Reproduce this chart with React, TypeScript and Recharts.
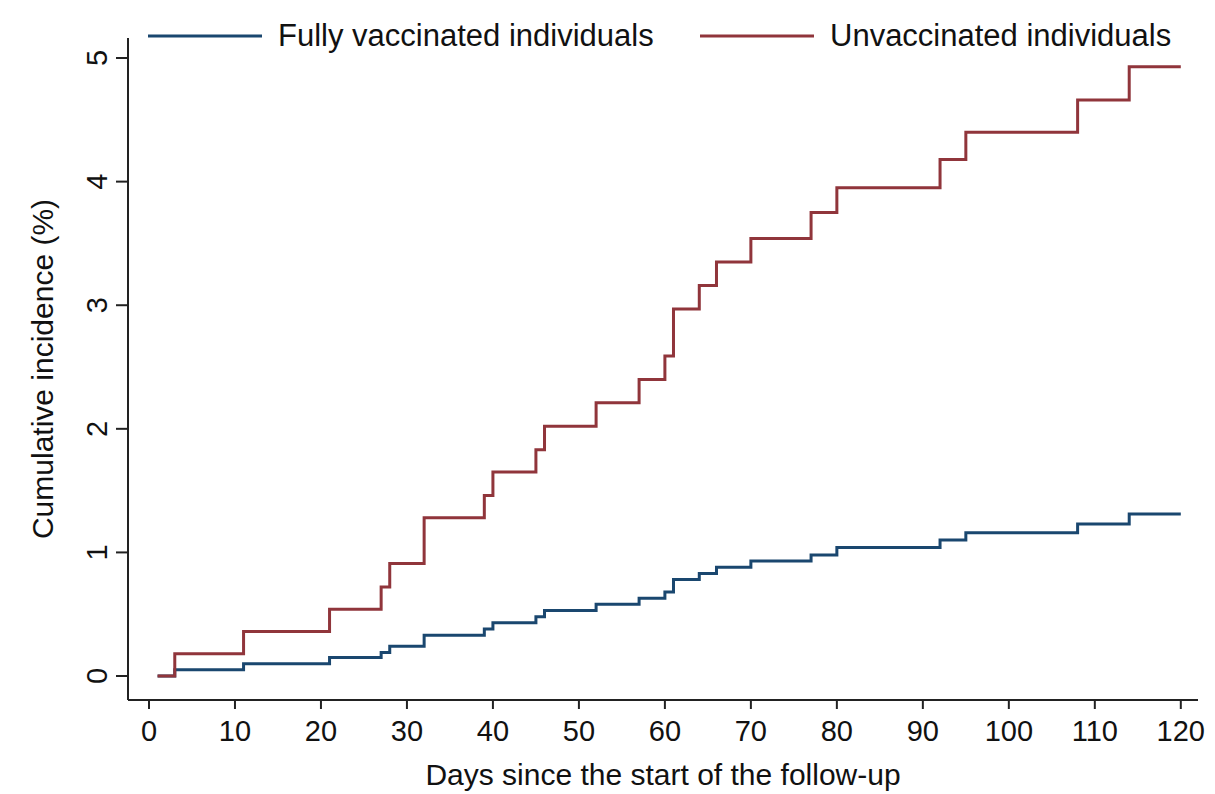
import { LineChart, Line, XAxis, YAxis, Label } from "recharts";

// days where the Kaplan-Meier style curves step up
const days = [1, 3, 11, 21, 27, 28, 32, 39, 40, 45, 46, 52, 57, 60, 61, 64, 66, 70, 77, 80, 92, 95, 108, 114, 120];
const unvaccinated = [0, 0.18, 0.36, 0.54, 0.72, 0.91, 1.28, 1.46, 1.65, 1.83, 2.02, 2.21, 2.4, 2.59, 2.97, 3.16, 3.35, 3.54, 3.75, 3.95, 4.18, 4.4, 4.66, 4.93, 4.93];
const vaccinated = [0, 0.05, 0.1, 0.15, 0.19, 0.24, 0.33, 0.38, 0.43, 0.48, 0.53, 0.58, 0.63, 0.68, 0.78, 0.83, 0.88, 0.93, 0.98, 1.04, 1.1, 1.16, 1.23, 1.31, 1.31];
const xTicks = [0, 10, 20, 30, 40, 50, 60, 70, 80, 90, 100, 110, 120];
const yTicks = [0, 1, 2, 3, 4, 5];

const BLUE = "#1a476f";
const RED = "#90353b";
const FONT = '"Liberation Sans", Arial, sans-serif';

const rows = days.map((d, i) => ({ day: d, vac: vaccinated[i], unvac: unvaccinated[i] }));

function XTick(props: any) {
  const { x, y, payload } = props;
  return (
    <text x={x} y={y + 32} textAnchor="middle" fontSize={29} fontFamily={FONT} fill="#111">
      {payload.value}
    </text>
  );
}

function YTick(props: any) {
  const { x, y, payload } = props;
  const bx = x - 9;
  return (
    <text
      x={bx}
      y={y}
      transform={`rotate(-90, ${bx}, ${y})`}
      textAnchor="middle"
      fontSize={29}
      fontFamily={FONT}
      fill="#111"
    >
      {payload.value}
    </text>
  );
}

function LegendItem({ left, color, text }: { left: number; color: string; text: string }) {
  return (
    <div style={{ position: "absolute", left, top: 18, display: "flex", alignItems: "center", height: 36 }}>
      <svg width={114} height={36}>
        <line x1={0} y1={18} x2={114} y2={18} stroke={color} strokeWidth={3} />
      </svg>
      <span style={{ marginLeft: 16, fontSize: 31, fontFamily: FONT, color: "#111", whiteSpace: "nowrap" }}>
        {text}
      </span>
    </div>
  );
}

export default function App() {
  return (
    <div style={{ position: "absolute", top: 0, left: 0, width: 1215, height: 794, background: "#fff" }}>
      <LineChart width={1215} height={794} data={rows} margin={{ top: 38, right: 17, bottom: 0, left: 0 }}>
        <XAxis
          dataKey="day"
          type="number"
          domain={[-2.44, 122]}
          ticks={xTicks}
          allowDataOverflow
          height={94}
          tickSize={9}
          tickMargin={0}
          stroke="#222"
          strokeWidth={2}
          tick={<XTick />}
        >
          <Label
            content={(p: any) => {
              const vb = p.viewBox || { x: 128, width: 1070 };
              return (
                <text x={vb.x + vb.width / 2} y={785} textAnchor="middle" fontSize={30} fontFamily={FONT} fill="#111">
                  Days since the start of the follow-up
                </text>
              );
            }}
          />
        </XAxis>
        <YAxis
          type="number"
          domain={[-0.194, 5.162]}
          ticks={yTicks}
          allowDataOverflow
          width={128}
          tickSize={12}
          tickMargin={0}
          stroke="#222"
          strokeWidth={2}
          tick={<YTick />}
        >
          <Label
            content={(p: any) => {
              const vb = p.viewBox || { y: 38, height: 662 };
              const cy = vb.y + vb.height / 2;
              return (
                <text
                  x={53}
                  y={cy}
                  transform={`rotate(-90, 53, ${cy})`}
                  textAnchor="middle"
                  fontSize={30}
                  fontFamily={FONT}
                  fill="#111"
                >
                  Cumulative incidence (%)
                </text>
              );
            }}
          />
        </YAxis>
        <Line
          type="stepAfter"
          dataKey="vac"
          stroke={BLUE}
          strokeWidth={3}
          dot={false}
          isAnimationActive={false}
        />
        <Line
          type="stepAfter"
          dataKey="unvac"
          stroke={RED}
          strokeWidth={3}
          dot={false}
          isAnimationActive={false}
        />
      </LineChart>
      <LegendItem left={148} color={BLUE} text="Fully vaccinated individuals" />
      <LegendItem left={700} color={RED} text="Unvaccinated individuals" />
    </div>
  );
}
